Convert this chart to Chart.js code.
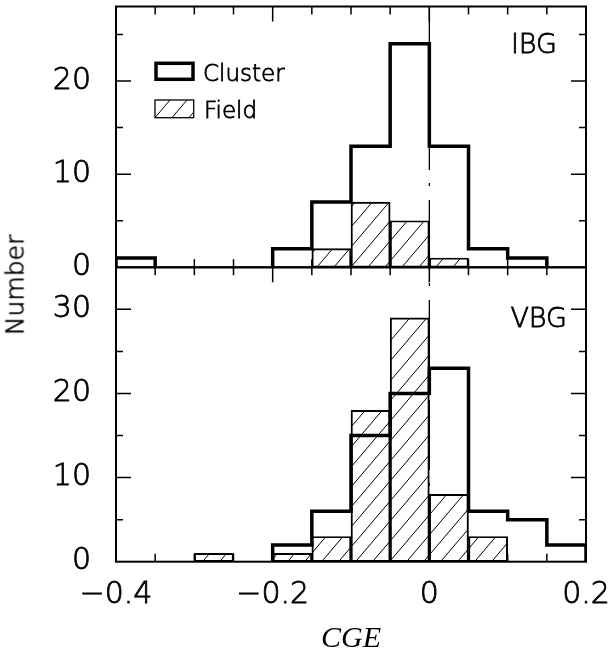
<!DOCTYPE html>
<html>
<head>
<meta charset="utf-8">
<script src="https://cdn.jsdelivr.net/npm/chart.js@4.4.1/dist/chart.umd.min.js"></script>
<style>
  html, body { margin: 0; padding: 0; background: #fff; }
  #wrap { position: relative; width: 611px; height: 657px; overflow: hidden; }
  .panel { position: absolute; left: 0; width: 611px; }
  #topBox { top: 0; height: 300px; }
  #botBox { top: 240px; height: 417px; }
  #ylabel {
    position: absolute; left: 15px; top: 285px;
    transform: translate(-50%, -50%) rotate(-90deg);
    font: 200 25px "DejaVu Sans"; color: #000; white-space: nowrap;
    -webkit-text-stroke: 0.7px #000;
  }
</style>
</head>
<body>
<div id="wrap">
  <div class="panel" id="botBox"><canvas id="bottomChart"></canvas></div>
  <div class="panel" id="topBox"><canvas id="topChart"></canvas></div>
  <div id="ylabel">Number</div>
</div>
<script>
// ---------- data ----------
const binEdges = [-0.4, -0.35, -0.3, -0.25, -0.2, -0.15, -0.1, -0.05, 0, 0.05, 0.1, 0.15, 0.2];

const ibgCluster = [1, 0, 0, 0, 2, 7, 13, 24, 13, 2, 1, 0];
const ibgField   = [0, 0, 0, 0, 0, 2, 7, 5, 1, 0, 0, 0];
const vbgCluster = [0, 0, 0, 0, 2, 6, 15, 20, 23, 6, 5, 2];
const vbgField   = [0, 0, 1, 0, 1, 3, 18, 29, 8, 3, 0, 0];

const seriesNames = ["Cluster", "Field"];
const panelNames = ["IBG", "VBG"];
const xTitle = "CGE";
const yTitle = "Number";

const FONT = "DejaVu Sans";
const TEXT_STROKE = 0.8; // light face, thickened a little

Chart.defaults.font.family = FONT;
Chart.defaults.color = "#000";

// ---------- helpers ----------
function makeHatch() {
  const tile = document.createElement("canvas");
  tile.width = 17;
  tile.height = 20;
  const t = tile.getContext("2d");
  t.strokeStyle = "#000";
  t.lineWidth = 1;
  for (const dx of [-17, 0, 17]) {
    t.beginPath();
    t.moveTo(dx - 17, 40);
    t.lineTo(dx + 34, -20);
    t.stroke();
  }
  return t.createPattern(tile, "repeat");
}

// outline of a histogram, broken where the counts drop to zero
function stepOutline(counts) {
  const pts = [];
  let open = false;
  counts.forEach((c, i) => {
    const x0 = binEdges[i];
    const x1 = binEdges[i + 1];
    if (c > 0) {
      if (!open) {
        pts.push({ x: x0, y: 0 });
        open = true;
      }
      pts.push({ x: x0, y: c }, { x: x1, y: c });
    } else if (open) {
      pts.push({ x: x0, y: 0 }, { x: x0, y: null });
      open = false;
    }
  });
  if (open) pts.push({ x: binEdges[counts.length], y: 0 });
  return pts;
}

function binBars(counts) {
  return counts.map((c, i) => ({ x: (binEdges[i] + binEdges[i + 1]) / 2, y: c }));
}

function fmtTick(v) {
  if (Math.abs(v) < 1e-9) return "0";
  return (v < 0 ? "\u2212" : "") + Math.abs(v).toFixed(1);
}

function drawText(ctx, text, x, y) {
  ctx.fillText(text, x, y);
  ctx.lineWidth = TEXT_STROKE;
  ctx.strokeText(text, x, y);
}

// frame with inward ticks, dash-dot line at zero and the panel name
const panelFrame = {
  id: "panelFrame",
  afterDatasetsDraw(chart, args, opts) {
    const { ctx, chartArea: ca } = chart;
    const xs = chart.scales.x;
    const ys = chart.scales.y;

    ctx.save();
    ctx.beginPath();
    ctx.rect(ca.left, ca.top, ca.width, ca.height);
    ctx.clip();
    ctx.strokeStyle = "#000";
    ctx.lineWidth = 1.3;
    ctx.setLineDash([70, 13, 3, 14]);
    ctx.lineDashOffset = opts.dashOffset;
    const xz = xs.getPixelForValue(0);
    ctx.beginPath();
    ctx.moveTo(xz, 0);
    ctx.lineTo(xz, ca.bottom);
    ctx.stroke();
    ctx.restore();

    ctx.save();
    ctx.strokeStyle = "#000";
    ctx.lineWidth = 2;
    ctx.strokeRect(ca.left, ca.top, ca.width, ca.height);

    ctx.lineWidth = 1.5;
    ctx.beginPath();
    for (let v = 5; v < ys.max; v += 5) {
      const py = ys.getPixelForValue(v);
      const len = v % 10 === 0 ? 15 : 7;
      ctx.moveTo(ca.left, py);
      ctx.lineTo(ca.left + len, py);
      ctx.moveTo(ca.right, py);
      ctx.lineTo(ca.right - len, py);
    }
    for (let i = 1; i < binEdges.length - 1; i++) {
      const px = xs.getPixelForValue(binEdges[i]);
      const len = i % 4 === 0 ? 15 : 8;
      ctx.moveTo(px, ca.top);
      ctx.lineTo(px, ca.top + len);
      ctx.moveTo(px, ca.bottom);
      ctx.lineTo(px, ca.bottom - len);
    }
    ctx.stroke();

    ctx.fillStyle = "#000";
    ctx.font = "200 27px " + FONT;
    ctx.textAlign = "right";
    ctx.textBaseline = "alphabetic";
    drawText(ctx, opts.label, ca.right - opts.labelInset, ca.top + opts.labelBase);
    ctx.restore();
  },
};

// legend box in the upper panel
const histLegend = {
  id: "histLegend",
  afterDatasetsDraw(chart) {
    const { ctx, chartArea: ca } = chart;
    const ds = chart.data.datasets;
    ctx.save();
    ctx.strokeStyle = "#000";
    ctx.lineWidth = 3.5;
    ctx.strokeRect(ca.left + 40, ca.top + 56.8, 37, 16);

    ctx.fillStyle = ds[1].backgroundColor;
    ctx.fillRect(ca.left + 39, ca.top + 93.5, 38.7, 17.7);
    ctx.lineWidth = 1.3;
    ctx.strokeRect(ca.left + 39, ca.top + 93.5, 38.7, 17.7);

    ctx.fillStyle = "#000";
    ctx.font = "200 23px " + FONT;
    ctx.textAlign = "left";
    ctx.textBaseline = "alphabetic";
    drawText(ctx, ds[0].label, ca.left + 87, ca.top + 74);
    drawText(ctx, ds[1].label, ca.left + 88, ca.top + 111);
    ctx.restore();
  },
};

function makeChart(canvasId, cluster, field, opts) {
  const ctx = document.getElementById(canvasId).getContext("2d");
  return new Chart(ctx, {
    type: "bar",
    data: {
      datasets: [
        {
          type: "line",
          label: seriesNames[0],
          data: stepOutline(cluster),
          borderColor: "#000",
          borderWidth: 3.5,
          borderJoinStyle: "miter",
          pointRadius: 0,
          tension: 0,
          spanGaps: false,
          fill: false,
          order: 0,
        },
        {
          type: "bar",
          label: seriesNames[1],
          data: binBars(field),
          backgroundColor: makeHatch(),
          borderColor: "#000",
          borderWidth: 1.3,
          borderSkipped: false,
          barPercentage: 1,
          categoryPercentage: 1,
          order: 1,
        },
      ],
    },
    options: {
      responsive: true,
      maintainAspectRatio: false,
      animation: false,
      layout: { padding: opts.padding },
      plugins: {
        legend: { display: false },
        tooltip: { enabled: false },
        panelFrame: opts.frame,
      },
      scales: {
        x: {
          type: "linear",
          offset: false,
          min: binEdges[0],
          max: binEdges[binEdges.length - 1],
          display: opts.showX,
          afterFit: (s) => {
            if (opts.showX) s.height = opts.xHeight;
            s.paddingLeft = 0;
            s.paddingRight = 0;
          },
          grid: { display: false, drawTicks: false, offset: false },
          border: { display: false },
          ticks: {
            stepSize: 0.2,
            autoSkip: false,
            maxRotation: 0,
            padding: 16,
            font: { size: 30, weight: 200 },
            textStrokeColor: "#000",
            textStrokeWidth: TEXT_STROKE,
            callback: fmtTick,
          },
          title: {
            display: opts.showX,
            text: xTitle,
            font: { family: "Liberation Serif", style: "italic", size: 30 },
            padding: { top: 0, bottom: 0 },
          },
        },
        y: {
          min: 0,
          max: opts.yMax,
          afterFit: (s) => {
            s.width = 116;
            s.paddingTop = 0;
            s.paddingBottom = 0;
          },
          grid: { display: false, drawTicks: false },
          border: { display: false },
          ticks: {
            stepSize: 10,
            includeBounds: false,
            padding: 25,
            font: { size: 30, weight: 200 },
            textStrokeColor: "#000",
            textStrokeWidth: TEXT_STROKE,
          },
        },
      },
    },
    plugins: opts.legend ? [panelFrame, histLegend] : [panelFrame],
  });
}

makeChart("topChart", ibgCluster, ibgField, {
  padding: { left: 0, right: 25, top: 6.5, bottom: 32.7 },
  yMax: 28,
  showX: false,
  legend: true,
  frame: { dashOffset: 0, label: panelNames[0], labelInset: 29, labelBase: 46.5 },
});

makeChart("bottomChart", vbgCluster, vbgField, {
  padding: { left: 0, right: 25, top: 27.3, bottom: 0 },
  yMax: 35,
  showX: true,
  xHeight: 95.3,
  legend: false,
  frame: { dashOffset: 240, label: panelNames[1], labelInset: 19, labelBase: 59.7 },
});

document.getElementById("ylabel").textContent = yTitle;
</script>
</body>
</html>
